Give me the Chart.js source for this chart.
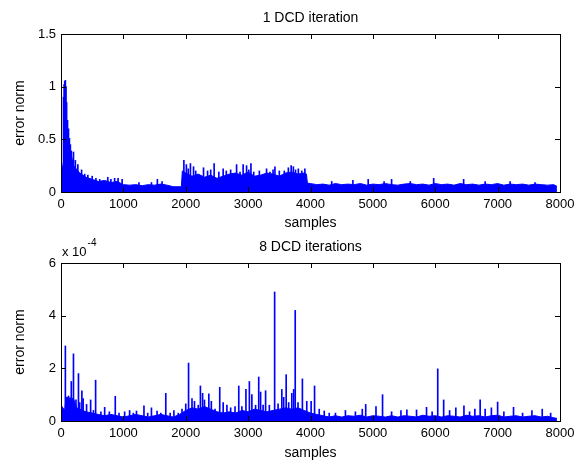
<!DOCTYPE html>
<html>
<head>
<meta charset="utf-8">
<script src="https://cdn.jsdelivr.net/npm/chart.js@4.4.1/dist/chart.umd.min.js"></script>
<style>
  html, body { margin: 0; padding: 0; background: #fff; }
  body { width: 583px; height: 462px; position: relative; overflow: hidden; }
  canvas { position: absolute; left: 0; }
  #top { top: 0; }
  #bottom { top: 229px; }
</style>
</head>
<body>
<canvas id="top" width="583" height="232"></canvas>
<canvas id="bottom" width="583" height="233"></canvas>
<script>
// shared x axis
const sampleTicks = [0, 1000, 2000, 3000, 4000, 5000, 6000, 7000, 8000];

// 1 DCD iteration: dense noise floor (upper edge) and taller spikes
const yTicks1 = [0, 0.5, 1, 1.5];
const bandX1 = [0, 30, 100, 150, 200, 300, 400, 500, 600, 700,
  800, 900, 1000, 1100, 1200, 1300, 1400, 1500, 1600, 1700,
  1800, 1930, 1945, 2000, 2100, 2200, 2300, 2400, 2500, 2600,
  2700, 2800, 2900, 3000, 3100, 3200, 3300, 3400, 3500, 3600,
  3700, 3800, 3900, 3935, 3950, 4000, 4100, 4200, 4300, 4400,
  4500, 4600, 4700, 4800, 4900, 5000, 5100, 5200, 5300, 5400,
  5500, 5600, 5700, 5800, 5900, 6000, 6100, 6200, 6300, 6400,
  6500, 6600, 6700, 6800, 6900, 7000, 7100, 7200, 7300, 7400,
  7500, 7600, 7700, 7800, 7900, 7950];
const bandY1 = [0.2, 0.25, 0.5, 0.4, 0.25, 0.18, 0.14, 0.12, 0.1, 0.11,
  0.09, 0.1, 0.07, 0.065, 0.07, 0.06, 0.07, 0.065, 0.075, 0.065,
  0.05, 0.05, 0.2, 0.18, 0.15, 0.17, 0.14, 0.16, 0.13, 0.15,
  0.17, 0.18, 0.16, 0.19, 0.15, 0.16, 0.18, 0.17, 0.15, 0.18,
  0.19, 0.17, 0.18, 0.17, 0.085, 0.08, 0.07, 0.075, 0.065, 0.08,
  0.07, 0.075, 0.07, 0.08, 0.065, 0.075, 0.07, 0.08, 0.07, 0.065,
  0.075, 0.08, 0.07, 0.075, 0.065, 0.08, 0.07, 0.075, 0.065, 0.08,
  0.07, 0.075, 0.065, 0.075, 0.07, 0.08, 0.065, 0.075, 0.07, 0.075,
  0.065, 0.075, 0.07, 0.065, 0.07, 0.055];
const spikeX1 = [40, 50, 60, 70, 80, 90, 105, 120, 135, 150,
  165, 180, 200, 230, 270, 330, 380, 430, 500, 560,
  620, 750, 800, 860, 915, 980, 1250, 1450, 1545, 1620,
  1970, 2010, 2040, 2075, 2125, 2160, 2285, 2350, 2400, 2455,
  2530, 2600, 2650, 2720, 2815, 2870, 2920, 2975, 3010, 3045,
  3090, 3180, 3295, 3350, 3400, 3430, 3500, 3580, 3645, 3690,
  3725, 3760, 3805, 3860, 3910, 4340, 4680, 4925, 5180, 5300,
  5600, 5975, 6455, 6800, 7200, 7600];
const spikeY1 = [0.9, 1.02, 1.05, 1.06, 1.0, 0.85, 0.68, 0.6, 0.51, 0.45,
  0.39, 0.3, 0.38, 0.3, 0.26, 0.21, 0.17, 0.16, 0.15, 0.13,
  0.12, 0.14, 0.12, 0.13, 0.13, 0.12, 0.09, 0.09, 0.12, 0.1,
  0.3, 0.26, 0.22, 0.27, 0.24, 0.2, 0.23, 0.2, 0.21, 0.27,
  0.19, 0.22, 0.2, 0.21, 0.26, 0.19, 0.26, 0.25, 0.21, 0.27,
  0.19, 0.2, 0.22, 0.19, 0.21, 0.24, 0.2, 0.2, 0.23, 0.25,
  0.24, 0.21, 0.22, 0.2, 0.22, 0.1, 0.11, 0.12, 0.1, 0.12,
  0.1, 0.13, 0.12, 0.1, 0.1, 0.09];

// 8 DCD iterations, values in units of 1e-4
const yTicks8 = [0, 2, 4, 6];
const bandX8 = [0, 60, 80, 200, 250, 300, 400, 500, 600, 700,
  800, 900, 1000, 1100, 1200, 1300, 1400, 1500, 1600, 1700,
  1800, 1900, 2000, 2100, 2200, 2300, 2400, 2500, 2600, 2700,
  2800, 2900, 3000, 3100, 3200, 3300, 3400, 3500, 3600, 3700,
  3800, 3900, 4000, 4100, 4200, 4300, 4400, 4500, 4600, 4700,
  4800, 4900, 5000, 5100, 5200, 5300, 5400, 5500, 5600, 5700,
  5800, 5900, 6000, 6100, 6200, 6300, 6400, 6500, 6600, 6700,
  6800, 6900, 7000, 7100, 7200, 7300, 7400, 7500, 7600, 7700,
  7800, 7900, 7950];
const bandY8 = [0.6, 0.4, 0.9, 0.85, 0.5, 0.45, 0.35, 0.3, 0.25, 0.2,
  0.25, 0.2, 0.15, 0.2, 0.25, 0.2, 0.15, 0.2, 0.25, 0.2,
  0.15, 0.25, 0.4, 0.5, 0.45, 0.55, 0.45, 0.35, 0.3, 0.35,
  0.3, 0.4, 0.35, 0.45, 0.4, 0.35, 0.4, 0.45, 0.5, 0.45,
  0.5, 0.4, 0.3, 0.25, 0.2, 0.15, 0.2, 0.15, 0.2, 0.18,
  0.22, 0.15, 0.2, 0.18, 0.15, 0.2, 0.15, 0.2, 0.18, 0.15,
  0.22, 0.18, 0.2, 0.15, 0.2, 0.18, 0.15, 0.22, 0.18, 0.2,
  0.15, 0.2, 0.22, 0.15, 0.18, 0.2, 0.15, 0.18, 0.2, 0.15,
  0.18, 0.12, 0.1];
const spikeX8 = [37, 70, 120, 165, 200, 240, 280, 300, 335, 355,
  410, 475, 520, 555, 640, 700, 775, 870, 930, 1020,
  1100, 1160, 1210, 1330, 1390, 1450, 1540, 1600, 1680, 1750,
  1810, 1880, 1940, 2000, 2045, 2100, 2140, 2200, 2235, 2270,
  2300, 2370, 2410, 2470, 2545, 2600, 2660, 2720, 2790, 2850,
  2900, 2965, 3020, 3060, 3120, 3170, 3200, 3240, 3280, 3340,
  3425, 3480, 3540, 3570, 3610, 3650, 3700, 3730, 3755, 3800,
  3870, 3940, 4010, 4065, 4140, 4220, 4300, 4400, 4560, 4720,
  4830, 4885, 5050, 5155, 5300, 5450, 5545, 5700, 5860, 5950,
  6040, 6135, 6230, 6330, 6460, 6550, 6635, 6720, 6800, 6900,
  7000, 7100, 7255, 7400, 7550, 7715, 7850];
const spikeY8 = [0.44, 2.85, 0.95, 1.5, 2.55, 0.8, 1.8, 0.7, 1.15, 0.85,
  0.63, 0.8, 0.4, 1.55, 0.35, 0.52, 0.35, 0.94, 0.3, 0.35,
  0.4, 0.3, 0.38, 0.58, 0.3, 0.5, 0.38, 0.3, 1.05, 0.3,
  0.4, 0.3, 0.45, 0.65, 2.2, 0.85, 0.75, 0.6, 1.33, 1.05,
  0.8, 1.03, 0.75, 0.45, 1.28, 0.7, 0.6, 0.5, 0.55, 1.33,
  0.55, 1.2, 1.5, 1.0, 0.6, 1.67, 1.1, 0.6, 1.15, 0.6,
  4.9, 0.65, 1.2, 0.9, 1.76, 0.7, 1.05, 1.2, 4.2, 0.7,
  1.6, 0.75, 0.75, 1.33, 0.45, 0.38, 0.3, 0.3, 0.4, 0.35,
  0.45, 0.63, 0.55, 1.0, 0.35, 0.4, 0.42, 0.42, 0.52, 0.35,
  1.98, 0.8, 0.4, 0.5, 0.58, 0.35, 0.45, 0.8, 0.45, 0.5,
  0.72, 0.35, 0.52, 0.3, 0.4, 0.45, 0.3];

const FONT = '"Liberation Sans", Arial, sans-serif';
const BLUE = '#0000ff';

const pts = (xs, ys) => xs.map((x, i) => ({ x: x, y: ys[i] }));

// MATLAB-like box with inward ticks on all four sides
const matlabBox = {
  id: 'matlabBox',
  afterDraw(chart) {
    const { ctx, chartArea: a, scales } = chart;
    ctx.save();
    ctx.strokeStyle = '#000';
    ctx.lineWidth = 1;
    ctx.beginPath();
    scales.x.ticks.forEach(t => {
      const px = Math.round(scales.x.getPixelForValue(t.value)) + 0.5;
      ctx.moveTo(px, a.bottom); ctx.lineTo(px, a.bottom - 5);
      ctx.moveTo(px, a.top); ctx.lineTo(px, a.top + 5);
    });
    scales.y.ticks.forEach(t => {
      const py = Math.round(scales.y.getPixelForValue(t.value)) + 0.5;
      ctx.moveTo(a.left, py); ctx.lineTo(a.left + 5, py);
      ctx.moveTo(a.right, py); ctx.lineTo(a.right - 5, py);
    });
    ctx.stroke();
    ctx.strokeRect(a.left + 0.5, a.top + 0.5, a.right - a.left, a.bottom - a.top);
    ctx.restore();
  }
};

// "x 10^-4" exponent label above the lower axes
const expLabel = {
  id: 'expLabel',
  afterDraw(chart) {
    const { ctx, chartArea: a } = chart;
    ctx.save();
    ctx.fillStyle = '#000';
    ctx.textBaseline = 'middle';
    ctx.font = '13px ' + FONT;
    ctx.fillText('x 10', a.left + 1, 23);
    const w = ctx.measureText('x 10').width;
    ctx.font = '10px ' + FONT;
    ctx.fillText('-4', a.left + 1 + w + 1, 14);
    ctx.restore();
  }
};

function makeChart(id, title, bandX, bandY, spikeX, spikeY, yTicks, xHeight, extra) {
  return new Chart(document.getElementById(id), {
    type: 'line',
    data: {
      datasets: [{
        label: 'floor',
        data: pts(bandX, bandY),
        borderColor: BLUE,
        backgroundColor: BLUE,
        borderWidth: 1,
        pointRadius: 0,
        tension: 0,
        fill: 'origin'
      }, {
        type: 'bar',
        label: 'spikes',
        data: pts(spikeX, spikeY),
        backgroundColor: BLUE,
        barThickness: 1
      }]
    },
    options: {
      responsive: false,
      animation: false,
      layout: { padding: { left: 0, right: 23, top: 0, bottom: 0 } },
      plugins: {
        legend: { display: false },
        tooltip: { enabled: false },
        title: {
          display: true,
          text: title,
          fullSize: false,
          color: '#000',
          font: { family: FONT, size: 14, weight: 'normal' },
          padding: { top: 10, bottom: 7.2 }
        }
      },
      scales: {
        x: {
          type: 'linear',
          min: 0,
          max: 8000,
          offset: false,
          afterFit: s => { s.height = xHeight; },
          afterBuildTicks: s => { s.ticks = sampleTicks.map(v => ({ value: v })); },
          grid: { display: false, drawTicks: false },
          border: { display: false },
          ticks: { autoSkip: false, maxRotation: 0, padding: 5, color: '#000',
                   font: { family: FONT, size: 13 }, callback: v => String(v) },
          title: { display: true, text: 'samples', color: '#000',
                   font: { family: FONT, size: 14 }, padding: { top: 0, bottom: 0 } }
        },
        y: {
          min: 0,
          max: yTicks[yTicks.length - 1],
          afterFit: s => { s.width = 61; },
          afterBuildTicks: s => { s.ticks = yTicks.map(v => ({ value: v })); },
          grid: { display: false, drawTicks: false },
          border: { display: false },
          ticks: { padding: 5, color: '#000', font: { family: FONT, size: 13 },
                   callback: v => String(v) },
          title: { display: true, text: 'error norm', color: '#000',
                   font: { family: FONT, size: 14 }, padding: { top: 11.5, bottom: 0 } }
        }
      }
    },
    plugins: [matlabBox].concat(extra || [])
  });
}

makeChart('top', '1 DCD iteration', bandX1, bandY1, spikeX1, spikeY1, yTicks1, 40);
makeChart('bottom', '8 DCD iterations', bandX8, bandY8, spikeX8, spikeY8, yTicks8, 41, [expLabel]);
</script>
</body>
</html>
